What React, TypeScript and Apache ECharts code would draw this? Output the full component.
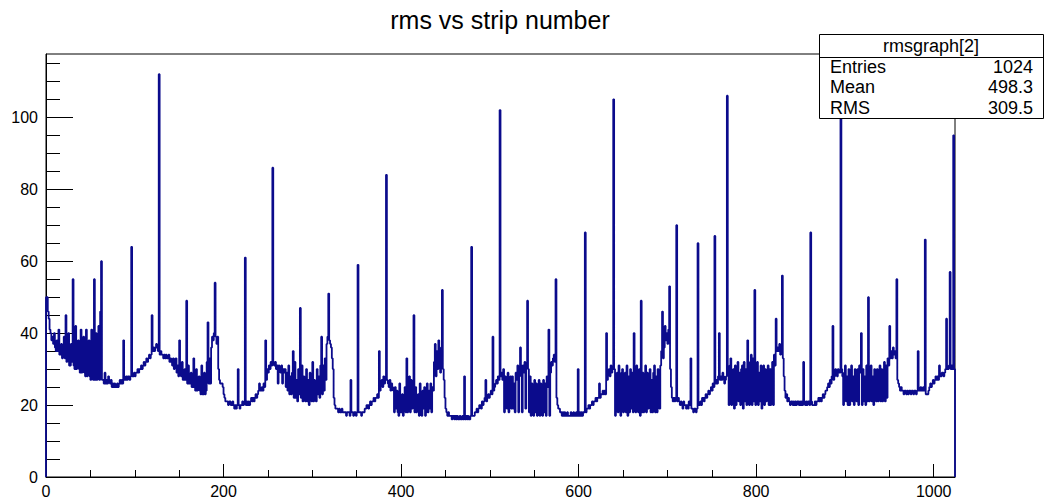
import React, { useEffect, useRef } from "react";
import * as echarts from "echarts";

// rms per strip, one array per 128-strip readout chip
const chip0 = [
  50, 50, 46, 44, 41, 40, 38, 39,
  37, 40, 36, 35, 38, 35, 41, 34,
  34, 37, 33, 34, 39, 33, 45, 32,
  33, 40, 31, 31, 37, 32, 55, 31,
  30, 42, 30, 31, 38, 30, 29, 41,
  29, 30, 39, 29, 28, 41, 28, 29,
  38, 28, 27, 41, 28, 27, 55, 27,
  40, 27, 28, 42, 27, 46, 60, 27,
  27, 26, 29, 26, 27, 26, 28, 27,
  26, 27, 25, 26, 25, 26, 25, 25,
  26, 25, 26, 27, 26, 27, 26, 38,
  27, 27, 28, 27, 28, 28, 27, 28,
  64, 28, 28, 29, 28, 29, 29, 30,
  29, 30, 30, 31, 30, 31, 32, 31,
  32, 33, 32, 33, 34, 33, 34, 45,
  35, 36, 35, 36, 37, 36, 35, 112,
];
const chip1 = [
  34, 35, 34, 34, 33, 34, 33, 34,
  33, 33, 34, 32, 33, 32, 31, 33,
  30, 31, 33, 29, 31, 28, 38, 30,
  28, 32, 27, 27, 30, 27, 49, 26,
  31, 26, 26, 29, 25, 25, 33, 25,
  24, 30, 24, 25, 28, 24, 23, 31,
  23, 23, 29, 23, 24, 32, 43, 26,
  33, 26, 36, 39, 38, 40, 54, 39,
  37, 39, 30, 27, 26, 26, 26, 25,
  23, 22, 21, 21, 21, 20, 21, 21,
  20, 20, 21, 20, 19, 20, 19, 20,
  30, 20, 19, 20, 20, 21, 20, 21,
  61, 20, 21, 20, 21, 20, 21, 22,
  21, 22, 21, 22, 23, 22, 23, 24,
  26, 24, 24, 25, 24, 26, 25, 38,
  27, 30, 29, 31, 30, 32, 31, 86,
];
const chip2 = [
  32, 31, 32, 30, 31, 26, 31, 30,
  29, 31, 26, 30, 29, 30, 25, 29,
  24, 31, 23, 28, 23, 29, 35, 22,
  32, 22, 27, 21, 30, 23, 47, 22,
  31, 21, 28, 22, 21, 30, 21, 27,
  20, 29, 22, 21, 32, 21, 27, 22,
  21, 30, 23, 28, 22, 31, 39, 23,
  31, 24, 33, 27, 37, 39, 51, 38,
  37, 36, 33, 30, 22, 20, 19, 19,
  19, 18, 19, 18, 18, 19, 18, 18,
  18, 18, 17, 18, 18, 18, 17, 27,
  18, 18, 17, 18, 18, 17, 18, 59,
  18, 18, 18, 17, 18, 18, 18, 19,
  19, 20, 20, 19, 20, 21, 20, 21,
  21, 22, 21, 22, 22, 23, 22, 35,
  24, 26, 27, 25, 28, 26, 27, 84,
];
const chip3 = [
  27, 26, 25, 27, 24, 26, 25, 24,
  18, 25, 19, 24, 18, 17, 26, 18,
  18, 23, 17, 19, 25, 18, 33, 18,
  26, 28, 18, 27, 19, 26, 45, 18,
  25, 18, 19, 23, 17, 26, 18, 17,
  24, 19, 25, 17, 18, 26, 18, 24,
  19, 26, 18, 25, 24, 32, 37, 28,
  35, 30, 38, 33, 29, 36, 52, 30,
  27, 22, 19, 18, 17, 18, 17, 17,
  17, 16, 17, 17, 16, 17, 16, 17,
  16, 16, 17, 16, 16, 17, 16, 28,
  16, 17, 16, 17, 16, 16, 17, 64,
  17, 17, 17, 18, 18, 19, 18, 19,
  20, 20, 19, 21, 20, 21, 22, 27,
  21, 22, 23, 22, 23, 24, 23, 39,
  24, 25, 26, 27, 26, 28, 27, 102,
];
const chip4 = [
  28, 29, 27, 30, 18, 28, 26, 19,
  29, 18, 27, 28, 19, 28, 19, 26,
  18, 29, 27, 31, 18, 28, 36, 31,
  18, 31, 29, 32, 19, 31, 49, 30,
  18, 28, 17, 26, 25, 17, 27, 18,
  26, 17, 25, 27, 17, 26, 24, 17,
  27, 18, 26, 17, 28, 25, 41, 17,
  29, 32, 31, 33, 34, 32, 55, 22,
  20, 19, 19, 18, 18, 17, 18, 17,
  18, 17, 17, 18, 17, 17, 17, 18,
  17, 17, 18, 17, 17, 18, 17, 30,
  17, 18, 17, 18, 17, 18, 18, 68,
  18, 19, 19, 20, 19, 20, 20, 21,
  20, 21, 21, 22, 21, 22, 22, 26,
  22, 23, 23, 24, 23, 24, 23, 40,
  27, 29, 30, 28, 31, 29, 30, 105,
];
const chip5 = [
  30, 17, 28, 29, 18, 31, 27, 17,
  29, 30, 18, 27, 29, 18, 31, 17,
  28, 18, 30, 19, 29, 18, 40, 30,
  18, 31, 28, 18, 30, 17, 49, 18,
  29, 18, 27, 31, 18, 29, 19, 28,
  30, 18, 27, 18, 29, 31, 18, 28,
  18, 30, 28, 19, 31, 35, 46, 33,
  36, 42, 38, 40, 37, 41, 53, 30,
  25, 22, 21, 22, 21, 22, 70, 21,
  22, 21, 20, 21, 20, 19, 21, 20,
  20, 19, 20, 19, 21, 20, 33, 19,
  19, 18, 19, 19, 18, 19, 65, 20,
  20, 21, 20, 22, 22, 21, 22, 23,
  22, 23, 24, 23, 24, 25, 24, 26,
  25, 67, 26, 27, 26, 28, 40, 27,
  28, 27, 29, 28, 26, 27, 28, 106,
];
const chip6 = [
  30, 20, 31, 33, 20, 29, 30, 19,
  31, 20, 29, 32, 21, 29, 20, 30,
  31, 19, 32, 21, 30, 20, 38, 31,
  20, 32, 34, 20, 33, 21, 52, 20,
  30, 32, 20, 29, 21, 31, 19, 28,
  31, 20, 30, 21, 29, 31, 20, 30,
  20, 30, 32, 20, 34, 31, 44, 35,
  36, 35, 37, 34, 36, 56, 33, 28,
  24, 22, 23, 21, 22, 21, 20, 21,
  21, 20, 21, 20, 21, 20, 21, 21,
  20, 21, 20, 21, 20, 32, 21, 20,
  21, 20, 21, 21, 20, 68, 21, 20,
  20, 20, 21, 20, 21, 21, 22, 21,
  22, 21, 22, 23, 22, 23, 24, 24,
  25, 26, 25, 27, 26, 28, 42, 27,
  28, 30, 29, 28, 30, 29, 29, 100,
];
const chip7 = [
  30, 28, 20, 29, 31, 21, 28, 20,
  30, 20, 29, 31, 21, 28, 20, 30,
  29, 21, 30, 20, 31, 29, 40, 20,
  30, 21, 28, 20, 31, 21, 50, 21,
  29, 31, 21, 28, 20, 30, 29, 21,
  30, 21, 28, 31, 21, 30, 21, 29,
  32, 21, 31, 22, 33, 31, 42, 33,
  35, 33, 36, 34, 35, 33, 55, 27,
  26, 25, 24, 25, 24, 24, 23, 24,
  24, 23, 24, 23, 24, 24, 23, 24,
  24, 23, 24, 24, 23, 24, 35, 24,
  24, 25, 24, 24, 25, 24, 66, 23,
  23, 23, 24, 25, 26, 25, 26, 27,
  26, 27, 28, 27, 28, 27, 31, 28,
  28, 29, 29, 28, 29, 30, 44, 30,
  30, 31, 57, 30, 31, 30, 95, 30,
];

const xMajorTicks = [0, 200, 400, 600, 800, 1000];
const xMinorTicks = [50, 100, 150, 250, 300, 350, 450, 500, 550, 650, 700, 750, 850, 900, 950];
const yMajorTicks = [0, 20, 40, 60, 80, 100];
const yMinorTicks = [5, 10, 15, 25, 30, 35, 45, 50, 55, 65, 70, 75, 85, 90, 95, 105, 110, 115];
const xMax = 1024;
const yMax = 117.6;

const chartTitle = "rms vs strip number";
const statsTitle = "rmsgraph[2]";
const statsLabels = ["Entries", "Mean", "RMS"];
const statsValues = ["1024", "498.3", "309.5"];

const FONT = '"Liberation Sans", Arial, Helvetica, sans-serif';
const LINE = "#0b0b8c";

export default function App() {
  const ref = useRef<HTMLDivElement>(null);

  useEffect(() => {
    if (!ref.current) return;
    const chart = echarts.init(ref.current, undefined, { renderer: "svg" });

    const rms = [...chip0, ...chip1, ...chip2, ...chip3, ...chip4, ...chip5, ...chip6, ...chip7];
    const histData: [number, number][] = [[0, 0]];
    rms.forEach((v, i) => histData.push([i, v]));
    histData.push([xMax, 0]);

    const axisLineStyle = { color: "#000", width: 1 };
    const rowY = [67, 87, 108];

    chart.setOption({
      animation: false,
      backgroundColor: "#fff",
      textStyle: { fontFamily: FONT },
      grid: {
        left: 46,
        top: 54,
        width: 909,
        height: 423,
        show: true,
        borderColor: "#000",
        borderWidth: 1,
        backgroundColor: "transparent",
      },
      xAxis: [
        {
          type: "value",
          position: "bottom",
          min: 0,
          max: xMax,
          axisLine: { show: true, lineStyle: axisLineStyle },
          axisTick: { show: true, inside: true, length: 13, customValues: xMajorTicks, lineStyle: axisLineStyle },
          axisLabel: {
            customValues: xMajorTicks,
            formatter: (v: number) => String(v),
            fontSize: 16,
            fontFamily: FONT,
            color: "#000",
            margin: 6,
          },
          splitLine: { show: false },
        },
        {
          type: "value",
          position: "bottom",
          min: 0,
          max: xMax,
          axisLine: { show: false },
          axisTick: { show: true, inside: true, length: 7, customValues: xMinorTicks, lineStyle: axisLineStyle },
          axisLabel: { show: false },
          splitLine: { show: false },
        },
      ],
      yAxis: [
        {
          type: "value",
          position: "left",
          min: 0,
          max: yMax,
          axisLine: { show: true, lineStyle: axisLineStyle },
          axisTick: { show: true, inside: true, length: 27, customValues: yMajorTicks, lineStyle: axisLineStyle },
          axisLabel: {
            customValues: yMajorTicks,
            formatter: (v: number) => String(v),
            fontSize: 16,
            fontFamily: FONT,
            color: "#000",
            margin: 8,
          },
          splitLine: { show: false },
        },
        {
          type: "value",
          position: "left",
          min: 0,
          max: yMax,
          axisLine: { show: false },
          axisTick: { show: true, inside: true, length: 14, customValues: yMinorTicks, lineStyle: axisLineStyle },
          axisLabel: { show: false },
          splitLine: { show: false },
        },
      ],
      series: [
        {
          type: "line",
          xAxisIndex: 0,
          yAxisIndex: 0,
          step: "end",
          showSymbol: false,
          symbol: "none",
          lineStyle: { color: LINE, width: 1.8 },
          data: histData,
          z: 3,
        },
      ],
      graphic: [
        {
          type: "text",
          x: 500,
          y: 20,
          z: 100,
          style: {
            text: chartTitle,
            font: `25px ${FONT}`,
            fill: "#000",
            textAlign: "center",
            align: "center",
            textVerticalAlign: "middle",
            verticalAlign: "middle",
          },
        },
        {
          type: "rect",
          z: 100,
          shape: { x: 819.5, y: 34.5, width: 224, height: 84 },
          style: { fill: "#fff", stroke: "#000", lineWidth: 1 },
        },
        {
          type: "line",
          z: 101,
          shape: { x1: 819.5, y1: 57.5, x2: 1043.5, y2: 57.5 },
          style: { stroke: "#000", lineWidth: 1 },
        },
        {
          type: "text",
          x: 931,
          y: 46,
          z: 102,
          style: {
            text: statsTitle,
            font: `18px ${FONT}`,
            fill: "#000",
            textAlign: "center",
            align: "center",
            textVerticalAlign: "middle",
            verticalAlign: "middle",
          },
        },
        ...statsLabels.map((label, i) => ({
          type: "text",
          x: 830,
          y: rowY[i],
          z: 102,
          style: {
            text: label,
            font: `18px ${FONT}`,
            fill: "#000",
            textAlign: "left",
            align: "left",
            textVerticalAlign: "middle",
            verticalAlign: "middle",
          },
        })),
        ...statsValues.map((val, i) => ({
          type: "text",
          x: 1033,
          y: rowY[i],
          z: 102,
          style: {
            text: val,
            font: `18px ${FONT}`,
            fill: "#000",
            textAlign: "right",
            align: "right",
            textVerticalAlign: "middle",
            verticalAlign: "middle",
          },
        })),
      ],
    });

    return () => chart.dispose();
  }, []);

  return (
    <div
      ref={ref}
      style={{ position: "absolute", left: 0, top: 0, width: 1044, height: 499, background: "#fff" }}
    />
  );
}
